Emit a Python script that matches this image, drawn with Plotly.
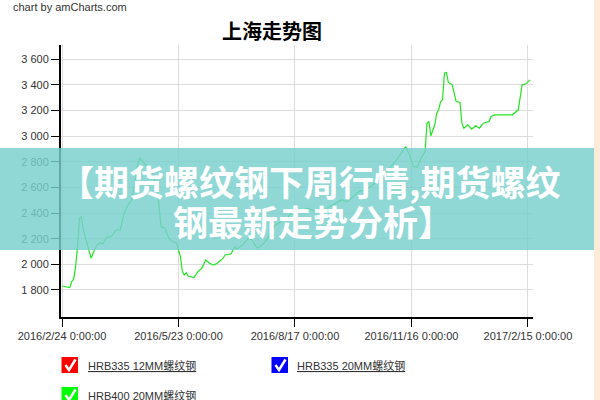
import plotly.graph_objects as go

# ---------------- data ----------------
day_index = [0, 2, 4, 5, 6, 7, 8, 9, 10, 11, 12, 13, 15, 16, 18, 20, 21, 23, 25, 26, 28, 30,
             31, 32, 34, 36, 37, 39, 40, 41, 43, 45, 47, 49, 50, 51, 53, 55, 57, 59, 61, 62,
             63, 64, 65, 67, 68, 70, 72, 74, 76, 78, 80, 83, 84, 87, 89, 90, 93, 96, 98, 100,
             101, 104, 106, 108, 110, 113, 116, 118, 120, 123, 126, 129, 132, 135, 138, 141,
             144, 147, 150, 153, 156, 159, 162, 165, 168, 171, 173, 177, 179, 181, 183, 185,
             187, 188, 189, 190, 191, 192, 193, 194, 195, 196, 197, 198, 199, 201, 202, 203,
             205, 206, 207, 209, 211, 213, 215, 217, 220, 221, 223, 232, 235, 237, 239, 241]
hrb400_20mm = [1831, 1826, 1818, 1865, 1884, 1982, 2138, 2360, 2373, 2269, 2212, 2177, 2048,
               2087, 2152, 2170, 2159, 2212, 2216, 2230, 2269, 2269, 2334, 2399, 2464, 2503,
               2594, 2777, 2829, 2816, 2777, 2751, 2698, 2581, 2451, 2294, 2282, 2204, 2177,
               2165, 2060, 1943, 1917, 1935, 1909, 1899, 1896, 1943, 1969, 2034, 2008, 1995,
               2008, 2048, 2073, 2081, 2138, 2118, 2152, 2204, 2191, 2138, 2126, 2165, 2204,
               2269, 2308, 2334, 2360, 2399, 2425, 2412, 2438, 2425, 2399, 2425, 2451, 2477,
               2503, 2490, 2530, 2570, 2581, 2607, 2646, 2700, 2738, 2789, 2829, 2920, 2855,
               2763, 2758, 2829, 2880, 3102, 3115, 3003, 3050, 3089, 3180, 3206, 3271, 3284,
               3493, 3498, 3420, 3401, 3336, 3271, 3264, 3102, 3063, 3089, 3055, 3081, 3063,
               3102, 3115, 3154, 3167, 3167, 3206, 3401, 3409, 3440]
tick_index = [0, 60, 120, 180, 240]
tick_labels = ["2016/2/24 0:00:00", "2016/5/23 0:00:00", "2016/8/17 0:00:00",
               "2016/11/16 0:00:00", "2017/2/15 0:00:00"]
y_ticks = [1800, 2000, 2200, 2400, 2600, 2800, 3000, 3200, 3400, 3600]
series_names = ["HRB335 12MM螺纹钢", "HRB335 20MM螺纹钢", "HRB400 20MM螺纹钢"]
series_colors = ["#ff0000", "#0000ff", "#00ff00"]
chart_title = "上海走势图"
banner_lines = ["【期货螺纹钢下周行情,期货螺纹", "钢最新走势分析】"]

# ---------------- layout geometry ----------------
W, H = 600, 400
L, R, T, B = 61, 533, 45, 317


def px(x):
    return (x - L) / (R - L)


def py(y):
    return (B - y) / (B - T)


FONT = "Liberation Sans, Arial, Noto Sans CJK SC, sans-serif"

fig = go.Figure()
fig.add_trace(go.Scatter(
    x=day_index, y=hrb400_20mm, mode="lines",
    line=dict(color="#22e622", width=1.2),
    name=series_names[2], showlegend=False, hoverinfo="skip",
))

shapes = []
annotations = []

# banner overlay
shapes.append(dict(type="rect", xref="paper", yref="paper",
                   x0=px(-5), x1=px(605), y0=py(250), y1=py(148),
                   fillcolor="rgba(120,208,205,0.82)", line=dict(width=0), layer="above"))
# right peach strip
shapes.append(dict(type="rect", xref="paper", yref="paper",
                   x0=px(594), x1=px(605), y0=py(405), y1=py(-5),
                   fillcolor="#fdebd9", line=dict(width=0), layer="above"))

annotations.append(dict(xref="paper", yref="paper", x=px(309), y=py(180),
                        text="<b>" + banner_lines[0] + "</b>", showarrow=False,
                        xanchor="center", yanchor="middle",
                        font=dict(family="Noto Sans CJK SC", size=35, color="white")))
annotations.append(dict(xref="paper", yref="paper", x=px(313), y=py(221),
                        text="<b>" + banner_lines[1] + "</b>", showarrow=False,
                        xanchor="center", yanchor="middle",
                        font=dict(family="Noto Sans CJK SC", size=35, color="white")))

# title and credit
annotations.append(dict(xref="paper", yref="paper", x=px(272), y=py(31),
                        text="<b>" + chart_title + "</b>", showarrow=False,
                        xanchor="center", yanchor="middle",
                        font=dict(family="Noto Sans CJK SC", size=20, color="#000")))
annotations.append(dict(xref="paper", yref="paper", x=px(11), y=py(7),
                        text="chart by amCharts.com", showarrow=False,
                        xanchor="left", yanchor="middle",
                        font=dict(family=FONT, size=11, color="#333")))

# custom legend with checkboxes
legend_pos = [(61.5, 357, 86), (271.5, 357, 295), (61.5, 387, 86)]
for name, col, (bx, by, tx) in zip(series_names, series_colors, legend_pos):
    shapes.append(dict(type="rect", xref="paper", yref="paper",
                       x0=px(bx), x1=px(bx + 16.5), y0=py(by + 16), y1=py(by),
                       fillcolor=col, line=dict(width=0), layer="above"))
    path = "M {:.4f},{:.4f} L {:.4f},{:.4f} L {:.4f},{:.4f}".format(
        px(bx + 4), py(by + 8), px(bx + 7.5), py(by + 13), px(bx + 14), py(by + 2.5))
    shapes.append(dict(type="path", xref="paper", yref="paper", path=path,
                       line=dict(color="white", width=2.5), layer="above"))
    annotations.append(dict(xref="paper", yref="paper", x=px(tx), y=py(by + 8.5),
                            text="<u>" + name + "</u>", showarrow=False,
                            xanchor="left", yanchor="middle",
                            font=dict(family=FONT, size=11, color="#333")))

fig.update_layout(
    width=W, height=H,
    margin=dict(l=L, r=W - R, t=T, b=H - B, pad=0),
    paper_bgcolor="white", plot_bgcolor="white",
    separators=". ",
    showlegend=False,
    shapes=shapes, annotations=annotations,
    font=dict(family=FONT, size=11, color="#333"),
)
fig.update_xaxes(
    range=[-0.52, 242.6], tickmode="array", tickvals=tick_index, ticktext=tick_labels,
    showgrid=True, gridcolor="#dddddd", gridwidth=1,
    showline=True, linecolor="#000", linewidth=2,
    ticks="outside", ticklen=8, tickcolor="#000", tickwidth=1,
    zeroline=False, tickfont=dict(family=FONT, size=11, color="#333"),
)
fig.update_yaxes(
    range=[1589, 3712], tickmode="array", tickvals=y_ticks, tickformat=",d",
    showgrid=True, gridcolor="#dddddd", gridwidth=1,
    showline=True, linecolor="#000", linewidth=2,
    ticks="outside", ticklen=8, tickcolor="#000", tickwidth=1,
    zeroline=False, tickfont=dict(family=FONT, size=11, color="#333"),
)

fig.write_html(
    "out.html",
    config={"displayModeBar": False},
    post_script="document.body.style.margin='0';document.body.style.overflow='hidden';",
)
